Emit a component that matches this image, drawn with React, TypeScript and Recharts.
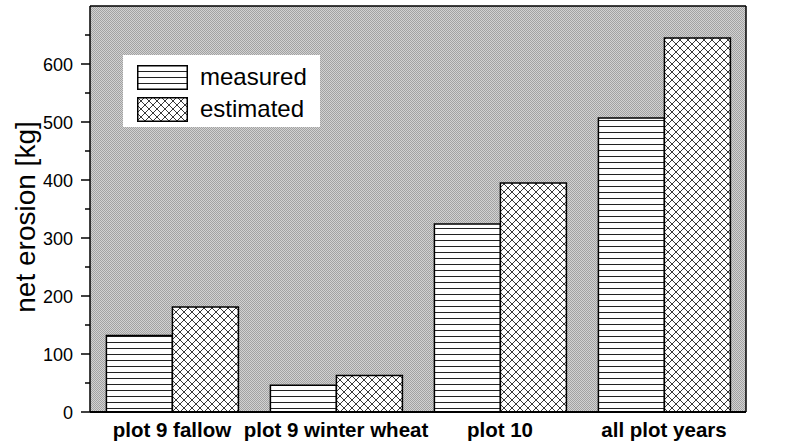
import { BarChart, Bar, XAxis, YAxis, CartesianGrid, Legend } from "recharts";

const categories = ["plot 9 fallow", "plot 9 winter wheat", "plot 10", "all plot years"];
const measured = [132, 46, 324, 507];
const estimated = [181, 63, 395, 645];
const yTicks = [0, 50, 100, 150, 200, 250, 300, 350, 400, 450, 500, 550, 600, 650];

const data = categories.map((name, i) => ({ name, measured: measured[i], estimated: estimated[i] }));

const FONT = "'Liberation Sans', Arial, sans-serif";

function LeftTick(props: any) {
  const { x, y, payload } = props;
  const major = payload.value % 100 === 0;
  return (
    <g>
      <line x1={x - (major ? 9 : 5)} x2={x} y1={y} y2={y} stroke="#000" strokeWidth={1.5} />
      {major && (
        <text x={x - 17} y={y} dy={6.5} textAnchor="end" fontSize={18} fill="#000" fontFamily={FONT}>
          {payload.value}
        </text>
      )}
    </g>
  );
}

function RightTick(props: any) {
  const { x, y, payload } = props;
  const major = payload.value % 100 === 0;
  return (
    <g>
      <line x1={x} x2={x + (major ? 9 : 5)} y1={y} y2={y} stroke="#000" strokeWidth={1.5} />
      {major && (
        <text x={x + 16} y={y} dy={6.5} textAnchor="start" fontSize={18} fill="#000" fontFamily={FONT}>
          {payload.value}
        </text>
      )}
    </g>
  );
}

function BottomTick(props: any) {
  const { x, y, payload } = props;
  return (
    <text x={x} y={y + 25} textAnchor="middle" fontSize={20.5} fontWeight="bold" fill="#000" fontFamily={FONT}>
      {payload.value}
    </text>
  );
}

function YLabel() {
  return (
    <text
      x={35}
      y={217}
      transform="rotate(-90 35 217)"
      textAnchor="middle"
      fontSize={28}
      fill="#000"
      fontFamily={FONT}
    >
      net erosion [kg]
    </text>
  );
}

function LegendBox() {
  const rows = [
    { label: "measured", fill: "url(#hlines)" },
    { label: "estimated", fill: "url(#xhatch)" },
  ];
  return (
    <div style={{ background: "#fff", width: 197, height: 72, fontFamily: FONT }}>
      {rows.map((r, i) => (
        <div key={r.label} style={{ display: "flex", alignItems: "center", height: 32, paddingTop: i === 0 ? 6 : 0 }}>
          <svg width={51} height={25} style={{ marginLeft: 14 }}>
            <rect x={0.75} y={0.75} width={49.5} height={23.5} fill={r.fill} stroke="#000" strokeWidth={1.5} />
          </svg>
          <span style={{ fontSize: 24, marginLeft: 12, color: "#000", lineHeight: "24px" }}>{r.label}</span>
        </div>
      ))}
    </div>
  );
}

export default function App() {
  return (
    <div style={{ position: "absolute", left: 0, top: 0, width: 794, height: 442, background: "#fff" }}>
      <BarChart
        width={794}
        height={442}
        data={data}
        margin={{ top: 5, right: 0, bottom: 0, left: 0 }}
        barCategoryGap="10%"
        barGap={0}
      >
        <defs>
          <pattern id="bg" width={2} height={2} patternUnits="userSpaceOnUse">
            <rect width={2} height={2} fill="#d2d2d2" />
            <rect width={1} height={1} fill="#a2a2a2" />
            <rect x={1} y={1} width={1} height={1} fill="#a2a2a2" />
          </pattern>
          <pattern id="hlines" width={8} height={6} patternUnits="userSpaceOnUse">
            <rect width={8} height={6} fill="#fff" />
            <line x1={0} x2={8} y1={0.5} y2={0.5} stroke="#222" strokeWidth={1} />
          </pattern>
          <pattern id="xhatch" width={8} height={8} patternUnits="userSpaceOnUse">
            <rect width={8} height={8} fill="#fff" />
            <path d="M0,0 L8,8 M8,0 L0,8" stroke="#222" strokeWidth={0.9} />
          </pattern>
        </defs>
        <CartesianGrid horizontal={false} vertical={false} fill="url(#bg)" />
        <XAxis
          xAxisId="top"
          orientation="top"
          dataKey="name"
          height={1}
          tick={false}
          tickLine={false}
          axisLine={{ stroke: "#000", strokeWidth: 1.5 }}
        />
        <XAxis
          xAxisId="main"
          dataKey="name"
          height={30}
          tickLine={false}
          tickSize={0}
          tickMargin={0}
          interval={0}
          tick={<BottomTick />}
          axisLine={{ stroke: "#000", strokeWidth: 2 }}
        />
        <YAxis
          yAxisId="left"
          orientation="left"
          width={90}
          domain={[0, 700]}
          ticks={yTicks}
          interval={0}
          tickLine={false}
          tickSize={0}
          tickMargin={0}
          tick={<LeftTick />}
          axisLine={{ stroke: "#000", strokeWidth: 1.5 }}
          label={<YLabel />}
        />
        <YAxis
          yAxisId="right"
          orientation="right"
          width={48}
          domain={[0, 700]}
          ticks={yTicks}
          interval={0}
          tickLine={false}
          tickSize={0}
          tickMargin={0}
          tick={<RightTick />}
          axisLine={{ stroke: "#000", strokeWidth: 1.5 }}
        />
        <Legend
          layout="vertical"
          align="center"
          verticalAlign="middle"
          content={<LegendBox />}
          wrapperStyle={{ position: "absolute", left: 123, top: 55, width: 197, height: 72 }}
        />
        <Bar
          xAxisId="main"
          yAxisId="left"
          dataKey="measured"
          fill="url(#hlines)"
          stroke="#000"
          strokeWidth={1.5}
          isAnimationActive={false}
        />
        <Bar
          xAxisId="main"
          yAxisId="left"
          dataKey="estimated"
          fill="url(#xhatch)"
          stroke="#000"
          strokeWidth={1.5}
          isAnimationActive={false}
        />
      </BarChart>
    </div>
  );
}
